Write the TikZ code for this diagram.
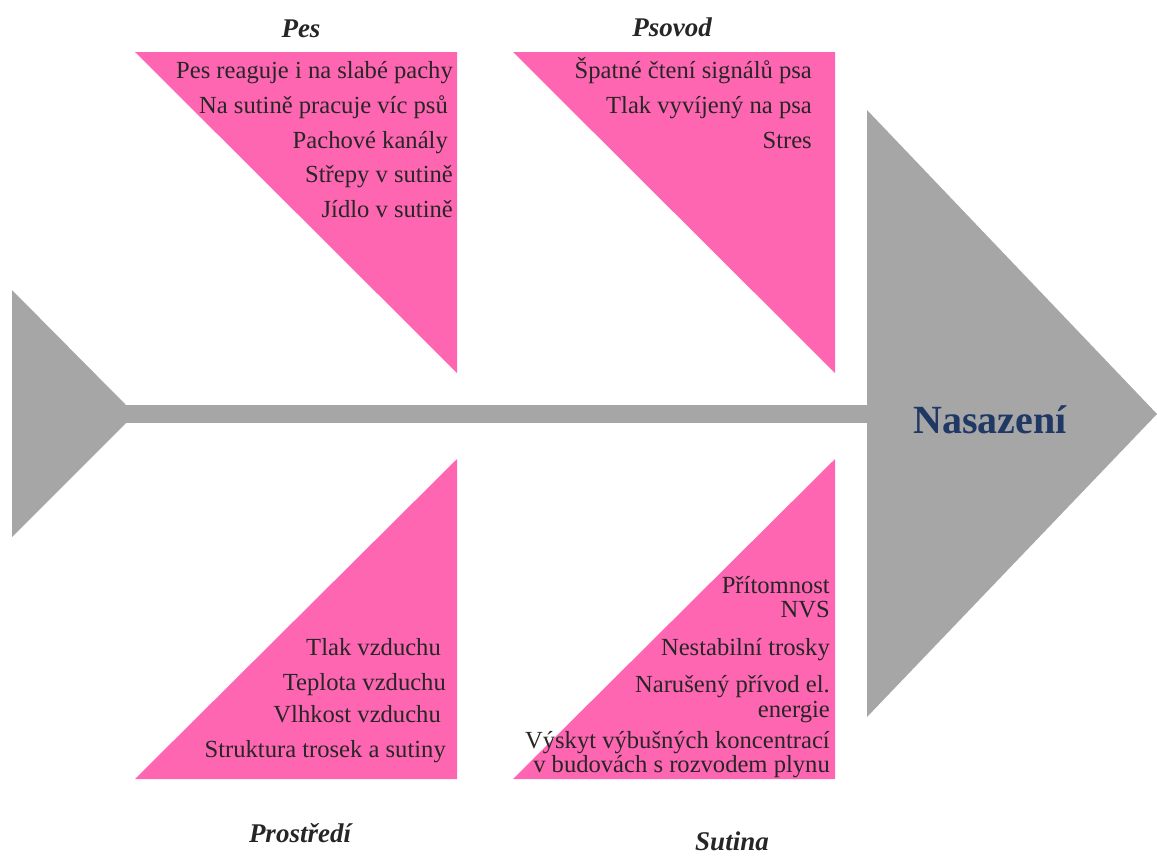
\documentclass[tikz,border=0pt]{standalone}
\usepackage{fontspec}
\setmainfont{Liberation Serif}
\definecolor{bonegray}{RGB}{166,166,166}
\definecolor{ribpink}{RGB}{255,102,178}
\definecolor{txtgray}{RGB}{38,38,38}
\definecolor{headblue}{RGB}{31,56,100}
\newcommand{\trail}{\kern5pt}
\begin{document}
\begin{tikzpicture}[x=1pt,y=-1pt,
  item/.style={anchor=base east, inner sep=0pt, text=txtgray, font=\fontsize{24.6}{24.6}\selectfont},
  cat/.style={anchor=base, inner sep=0pt, text=txtgray, font=\fontsize{27}{27}\selectfont\bfseries\itshape},
  rib/.style={fill=ribpink},
  bone/.style={fill=bonegray}]
\useasboundingbox (0,0) rectangle (1157,855);
% fish bones
\coordinate (tailtop) at (12,290);
\coordinate (tailbot) at (12,537);
\coordinate (spineLT) at (126,405);
\coordinate (spineLB) at (126,423);
\coordinate (spineRT) at (868,405);
\coordinate (spineRB) at (868,423);
\coordinate (headtop) at (867,110);
\coordinate (headtip) at (1157,414);
\coordinate (headbot) at (867,717);
\fill[bone] (tailtop) -- (spineLT) -- (spineLB) -- (tailbot) -- cycle;
\fill[bone] (spineLT) -- (spineRT) -- (spineRB) -- (spineLB) -- cycle;
\fill[bone] (headtop) -- (headtip) -- (headbot) -- cycle;
\node[anchor=base, inner sep=0pt, text=headblue, font=\fontsize{40}{40}\selectfont\bfseries] (effect) at (990,433) {Nasazení};
% ribs
\fill[rib] (135,52) -- (457,52) -- (457,373) -- cycle;
\fill[rib] (513,52) -- (835,52) -- (835,373) -- cycle;
\fill[rib] (457,459) -- (457,779) -- (135,779) -- cycle;
\fill[rib] (835,459) -- (835,779) -- (513,779) -- cycle;
% categories
\node[cat] (pes) at (301,37) {Pes};
\node[cat] (psovod) at (672,36) {Psovod};
\node[cat] (prostredi) at (300,842) {Prostředí};
\node[cat] (sutina) at (732,850) {Sutina};
% Pes
\node[item] (p1) at (453,78) {Pes reaguje i na slabé pachy};
\node[item] (p2) at (453,113) {Na sutině pracuje víc psů\trail};
\node[item] (p3) at (453,148) {Pachové kanály\trail};
\node[item] (p4) at (453,182) {Střepy v sutině};
\node[item] (p5) at (453,217) {Jídlo v sutině};
% Psovod
\node[item] (h1) at (812,78) {Špatné čtení signálů psa};
\node[item] (h2) at (812,113) {Tlak vyvíjený na psa};
\node[item] (h3) at (812,148) {Stres};
% Prostredi
\node[item] (e1) at (446,655) {Tlak vzduchu\trail};
\node[item] (e2) at (446,690) {Teplota vzduchu};
\node[item] (e3) at (446,722) {Vlhkost vzduchu\trail};
\node[item] (e4) at (446,757) {Struktura trosek a sutiny};
% Sutina
\node[item] (s1a) at (830,593) {Přítomnost};
\node[item] (s1b) at (830,617) {NVS};
\node[item] (s2) at (830,655) {Nestabilní trosky};
\node[item] (s3a) at (830,692) {Narušený přívod el.};
\node[item] (s3b) at (830,717) {energie};
\node[item] (s4a) at (830,748) {Výskyt výbušných koncentrací};
\node[item] (s4b) at (830,772) {v budovách s rozvodem plynu};
\end{tikzpicture}
\end{document}
